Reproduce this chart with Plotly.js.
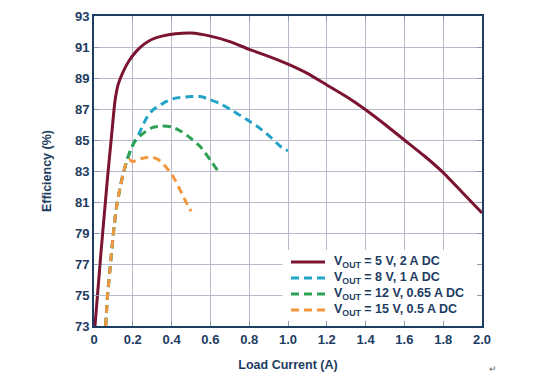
<!DOCTYPE html>
<html>
<head>
<meta charset="utf-8">
<script src="https://cdn.plot.ly/plotly-3.0.1.min.js"></script>
<style>html,body{margin:0;padding:0;background:#fff;}#chart{width:533px;height:375px;}</style>
</head>
<body>
<div id="chart"></div>
<script>
// ---- data ----
const x5V = [0.005,0.035,0.07,0.09,0.108,0.125,0.15,0.18,0.22,0.26,0.3,0.35,0.42,0.5,0.6,0.7,0.8,0.9,1.0,1.1,1.2,1.3,1.4,1.5,1.6,1.7,1.8,1.9,2.0];
const y5V = [73,77.6,82.6,85.2,87.5,88.6,89.4,90.1,90.75,91.2,91.5,91.7,91.85,91.9,91.7,91.35,90.85,90.4,89.9,89.3,88.55,87.8,86.95,86.0,85.0,84.0,82.9,81.6,80.3];

const x8V = [0.06,0.07,0.085,0.1,0.115,0.134,0.15,0.168,0.19,0.21,0.23,0.25,0.27,0.3,0.36,0.42,0.5,0.55,0.6,0.65,0.7,0.79,0.85,0.9,0.96,1.0];
const y8V = [73,75,77,79,80.6,81.9,82.8,83.6,84.4,84.95,85.35,85.9,86.4,86.9,87.4,87.7,87.8,87.8,87.6,87.35,87.0,86.3,85.8,85.3,84.6,84.3];

const x12V = [0.06,0.07,0.085,0.1,0.115,0.134,0.15,0.168,0.19,0.21,0.25,0.3,0.35,0.4,0.45,0.5,0.55,0.6,0.65];
const y12V = [73,75,77,79,80.6,81.9,82.8,83.6,84.4,84.9,85.4,85.8,85.9,85.85,85.55,85.1,84.55,83.7,82.8];

const x15V = [0.06,0.07,0.085,0.1,0.115,0.134,0.15,0.168,0.18,0.2,0.24,0.29,0.33,0.375,0.41,0.443,0.47,0.5];
const y15V = [73,75,77,79,80.6,81.9,82.8,83.6,83.75,83.6,83.8,83.9,83.75,83.2,82.6,81.8,81.1,80.4];

const seriesNames = ['V<sub>OUT</sub> = 5 V, 2 A DC','V<sub>OUT</sub> = 8 V, 1 A DC','V<sub>OUT</sub> = 12 V, 0.65 A DC','V<sub>OUT</sub> = 15 V, 0.5 A DC'];
const seriesColors = ['#7b1430','#21a3c6','#2ea152','#f3973e'];
const seriesDash = ['solid','8px,5px','8px,5px','8px,5px'];
const xTicks = [0,0.2,0.4,0.6,0.8,1.0,1.2,1.4,1.6,1.8,2.0];
const xTickText = ['0','0.2','0.4','0.6','0.8','1.0','1.2','1.4','1.6','1.8','2.0'];
const yTicks = [73,75,77,79,81,83,85,87,89,91,93];

const navy = '#1d3c62';
const fam = 'Liberation Sans, Arial, sans-serif';

const xs = [x5V, x8V, x12V, x15V];
const ys = [y5V, y8V, y12V, y15V];
const traces = xs.map((x, i) => ({
  x: x, y: ys[i], name: seriesNames[i], mode: 'lines',
  line: {color: seriesColors[i], width: 3, dash: seriesDash[i], shape: 'spline', smoothing: 0.5}
}));

// manual legend (to match the compact row spacing)
const legTop = 0.2065, legStep = 0.0516;
const legendShapes = seriesNames.map((n, i) => ({
  type: 'line', xref: 'paper', yref: 'paper',
  x0: 0.5077, x1: 0.5954, y0: legTop - i * legStep, y1: legTop - i * legStep,
  line: {color: seriesColors[i], width: 3, dash: seriesDash[i]}
}));
const legendAnn = seriesNames.map((n, i) => ({
  xref: 'paper', yref: 'paper', x: 0.613, y: legTop - i * legStep,
  xanchor: 'left', yanchor: 'middle', text: n, showarrow: false,
  font: {family: fam, size: 12.5, color: navy, weight: 'bold'}
}));

const axisFont = {family: fam, size: 13, color: navy, weight: 'bold'};
const titleFont = {family: fam, size: 12.5, color: navy, weight: 'bold'};

const layout = {
  width: 533, height: 375,
  margin: {l: 94, r: 51, t: 16, b: 49},
  paper_bgcolor: '#fff', plot_bgcolor: '#fff',
  showlegend: false,
  font: {family: fam, color: navy},
  xaxis: {
    range: [0, 2.0], tickvals: xTicks, ticktext: xTickText,
    showgrid: true, gridcolor: '#b9b9cc', gridwidth: 1,
    showline: true, linecolor: navy, linewidth: 2, mirror: 'ticks',
    ticks: 'inside', ticklen: 5, tickcolor: '#8a9ab0', tickwidth: 1,
    zeroline: false, tickfont: axisFont,
    title: {text: 'Load Current (A)', font: titleFont, standoff: 15}
  },
  yaxis: {
    range: [73, 93], tickvals: yTicks,
    showgrid: true, gridcolor: '#b9b9cc', gridwidth: 1,
    showline: true, linecolor: navy, linewidth: 2, mirror: 'ticks',
    ticks: 'inside', ticklen: 5, tickcolor: '#8a9ab0', tickwidth: 1,
    zeroline: false, tickfont: axisFont,
    title: {text: 'Efficiency (%)', font: titleFont, standoff: 21}
  },
  shapes: [
    {type: 'rect', xref: 'x', yref: 'y', x0: 0.97, x1: 2.0, y0: 73, y1: 77.9, layer: 'between', fillcolor: '#ffffff', line: {width: 0}}
  ].concat(legendShapes),
  annotations: legendAnn.concat([
    {xref: 'paper', yref: 'paper', x: 1.045, y: -0.142, yshift: -6, text: '↵', showarrow: false, font: {size: 9, color: '#666'}}
  ])
};

Plotly.newPlot('chart', traces, layout, {displayModeBar: false, staticPlot: true});
</script>
</body>
</html>
